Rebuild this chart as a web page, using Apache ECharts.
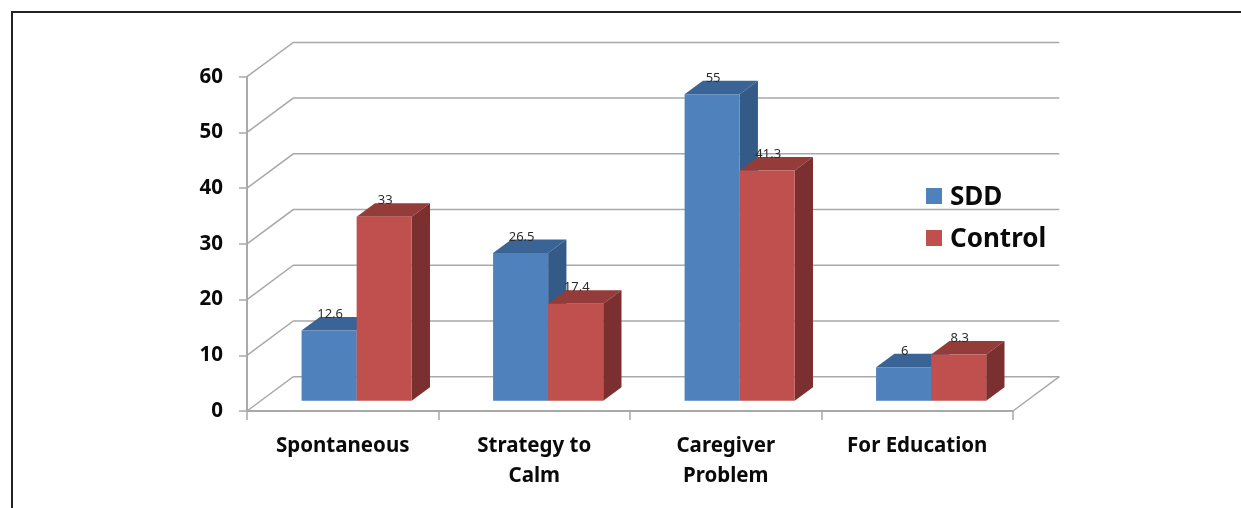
<!DOCTYPE html>
<html>
<head>
<meta charset="utf-8">
<style>html,body{margin:0;padding:0;background:#fff}#chart{width:1241px;height:508px}</style>
<script src="https://cdn.jsdelivr.net/npm/echarts@6/dist/echarts.min.js"></script>
</head>
<body>
<div id="chart"></div>
<script>
const categories = ['Spontaneous', 'Strategy to\nCalm', 'Caregiver\nProblem', 'For Education'];
const sddValues = [12.6, 26.5, 55, 6];
const controlValues = [33, 17.4, 41.3, 8.3];
const tickValues = [0, 10, 20, 30, 40, 50, 60];

// Oblique projection of the chart's depth axis, in pixels.
const DEPTH_X = 46.3;
const DEPTH_Y = -34.3;
const BAR_FRONT = 0.3;   // where the bar's front face sits along the depth
const BAR_DEPTH = 0.395; // how much of the depth a bar occupies
const BAR_WIDTH = 0.2875; // share of the category band
const BAR_GAP = 0.2125;

const GRID_COLOR = '#a9a9a9';
const FONT = '"Noto Sans", "Open Sans", sans-serif';

function renderWalls(params, api) {
  const value = api.value(1);
  const bw = api.size([1, 0])[0];
  const left = api.coord([0, value]);
  const right = api.coord([categories.length - 1, value]);
  const x0 = left[0] - bw / 2;
  const x1 = right[0] + bw / 2;
  const y = left[1];
  const style = { stroke: GRID_COLOR, lineWidth: 1.5, fill: null };
  const children = [{
    type: 'polyline',
    shape: { points: [[x0, y], [x0 + DEPTH_X, y + DEPTH_Y], [x1 + DEPTH_X, y + DEPTH_Y]] },
    style
  }];
  if (value === 0) {
    children.push({
      type: 'line',
      shape: { x1: x1, y1: y, x2: x1 + DEPTH_X, y2: y + DEPTH_Y },
      style
    });
  }
  return { type: 'group', children };
}

function barRenderer(slot, colors) {
  return function (params, api) {
    const idx = api.value(0);
    const val = api.value(1);
    const bw = api.size([1, 0])[0];
    const center = api.coord([idx, 0]);
    const top = api.coord([idx, val]);
    const w = bw * BAR_WIDTH;
    const shiftX = DEPTH_X * BAR_FRONT;
    const shiftY = DEPTH_Y * BAR_FRONT;
    const dx = DEPTH_X * BAR_DEPTH;
    const dy = DEPTH_Y * BAR_DEPTH;
    const x0 = center[0] - bw / 2 + bw * BAR_GAP + w * slot + shiftX;
    const x1 = x0 + w;
    const yBase = center[1] + shiftY;
    const yTop = top[1] + shiftY;
    return {
      type: 'group',
      children: [
        { type: 'polygon',
          shape: { points: [[x0, yTop], [x1, yTop], [x1 + dx, yTop + dy], [x0 + dx, yTop + dy]] },
          style: { fill: colors.top } },
        { type: 'polygon',
          shape: { points: [[x1, yBase], [x1 + dx, yBase + dy], [x1 + dx, yTop + dy], [x1, yTop]] },
          style: { fill: colors.side } },
        { type: 'rect',
          shape: { x: x0, y: yTop, width: w, height: yBase - yTop },
          style: { fill: colors.front } },
        { type: 'text',
          z2: 10,
          style: {
            x: x0 + w / 2 + 1, y: yTop + dy - 2.5,
            text: String(val),
            fill: '#2b2b2b',
            font: '13px ' + FONT,
            align: 'center',
            verticalAlign: 'middle'
          } }
      ]
    };
  };
}

const chart = echarts.init(document.getElementById('chart'), null, { renderer: 'canvas' });
chart.setOption({
  animation: false,
  backgroundColor: '#fff',
  grid: { left: 247, right: 228, top: 76.7, bottom: 97, containLabel: false },
  legend: {
    data: [{ name: 'SDD', icon: 'rect' }, { name: 'Control', icon: 'rect' }],
    orient: 'vertical',
    left: 921,
    top: 180,
    itemWidth: 16,
    itemHeight: 16,
    itemGap: 16,
    selectedMode: false,
    formatter: '{t|{name}}',
    textStyle: {
      color: '#0a0a0a',
      rich: {
        t: { fontFamily: FONT, fontSize: 26, fontWeight: 'bold', color: '#0a0a0a', padding: [4, 0, 0, 3] }
      }
    }
  },
  xAxis: {
    type: 'category',
    data: categories,
    axisLine: { lineStyle: { color: GRID_COLOR, width: 2 } },
    axisTick: { show: true, length: 9, alignWithLabel: false, lineStyle: { color: GRID_COLOR, width: 1.5 } },
    axisLabel: {
      margin: 20,
      interval: 0,
      fontFamily: FONT,
      fontSize: 20.5,
      fontWeight: 'bold',
      lineHeight: 30,
      color: '#0a0a0a'
    },
    splitLine: { show: false }
  },
  yAxis: {
    type: 'value',
    min: 0,
    max: 60,
    interval: 10,
    axisLine: { show: true, lineStyle: { color: GRID_COLOR, width: 2 } },
    axisTick: { show: true, length: 8, lineStyle: { color: GRID_COLOR, width: 1.5 } },
    axisLabel: {
      margin: 24,
      fontFamily: FONT,
      fontSize: 20.5,
      fontWeight: 'bold',
      color: '#0a0a0a',
      padding: [10, 0, 0, 0]
    },
    splitLine: { show: false }
  },
  graphic: [
    { type: 'line', silent: true, z: 100,
      shape: { x1: 11, y1: 12, x2: 1241, y2: 12 },
      style: { stroke: '#222', lineWidth: 2 } },
    { type: 'line', silent: true, z: 100,
      shape: { x1: 12, y1: 12, x2: 12, y2: 508 },
      style: { stroke: '#222', lineWidth: 2 } }
  ],
  series: [
    {
      type: 'custom',
      name: 'walls',
      z: 1,
      silent: true,
      renderItem: renderWalls,
      encode: { x: 0, y: 1 },
      data: tickValues.map(v => [0, v])
    },
    {
      type: 'custom',
      name: 'SDD',
      z: 2,
      itemStyle: { color: '#4F81BD' },
      renderItem: barRenderer(0, { front: '#4F81BD', top: '#3B6496', side: '#345A87' }),
      encode: { x: 0, y: 1 },
      data: sddValues.map((v, i) => [i, v])
    },
    {
      type: 'custom',
      name: 'Control',
      z: 3,
      itemStyle: { color: '#C0504D' },
      renderItem: barRenderer(1, { front: '#C0504D', top: '#933C3A', side: '#7B302F' }),
      encode: { x: 0, y: 1 },
      data: controlValues.map((v, i) => [i, v])
    }
  ]
});
</script>
</body>
</html>
